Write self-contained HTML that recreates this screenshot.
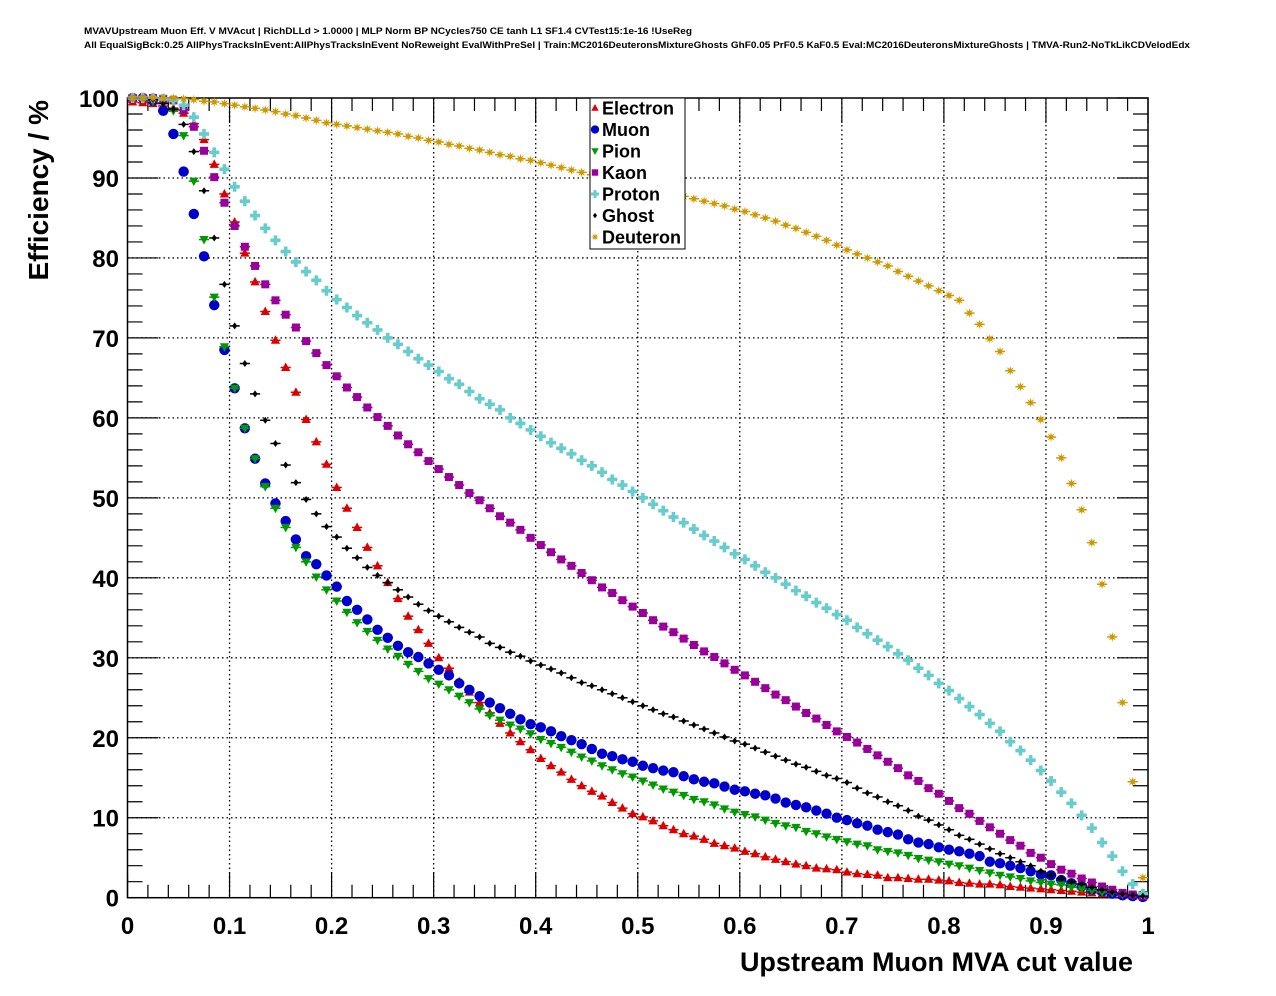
<!DOCTYPE html>
<html><head><meta charset="utf-8"><style>
html,body{margin:0;padding:0;background:#fff;}
svg{display:block;font-family:"Liberation Sans",Arial,sans-serif;}
</style></head><body>
<svg id="chart" width="1276" height="996" viewBox="0 0 1276 996" xmlns="http://www.w3.org/2000/svg">
<rect x="0" y="0" width="1276" height="996" fill="#fff"/>
<text x="84" y="34" font-size="9.5" font-weight="bold" textLength="608" lengthAdjust="spacingAndGlyphs">MVAVUpstream Muon Eff. V MVAcut | RichDLLd &gt; 1.0000 | MLP Norm BP NCycles750 CE tanh L1 SF1.4 CVTest15:1e-16 !UseReg</text>
<text x="84" y="48" font-size="9.5" font-weight="bold" textLength="1106" lengthAdjust="spacingAndGlyphs">All EqualSigBck:0.25 AllPhysTracksInEvent:AllPhysTracksInEvent NoReweight EvalWithPreSel | Train:MC2016DeuteronsMixtureGhosts GhF0.05 PrF0.5 KaF0.5 Eval:MC2016DeuteronsMixtureGhosts | TMVA-Run2-NoTkLikCDVelodEdx</text>
<g id="grid"></g>
<g id="axes"></g>
<g id="series"></g>
<text x="1133" y="971" font-size="27" font-weight="bold" text-anchor="end">Upstream Muon MVA cut value</text>
<text transform="translate(48,100) rotate(-90)" font-size="28" font-weight="bold" text-anchor="end">Efficiency / %</text>
<g id="legend"></g>
</svg>
<script>
const categories = Array.from({length:100},(_,i)=>+(i*0.01+0.005).toFixed(3));
const seriesNames = ["Electron","Muon","Pion","Kaon","Proton","Ghost","Deuteron"];
const electron = [99.5,99.4,99.3,99.0,98.7,98.1,96.8,94.8,91.7,88.0,84.5,80.6,77.0,73.3,69.7,66.3,63.2,59.8,57.0,54.2,51.3,48.7,46.3,43.8,41.5,39.4,37.4,35.2,33.5,31.8,30.0,28.7,27.0,25.7,24.4,23.1,21.8,20.6,19.5,18.5,17.4,16.5,15.7,14.8,14.0,13.3,12.7,11.9,11.2,10.5,10.1,9.6,9.0,8.5,8.0,7.7,7.3,6.8,6.5,6.2,5.8,5.5,5.1,4.8,4.5,4.2,4.0,3.7,3.6,3.5,3.2,3.0,2.9,2.8,2.5,2.5,2.4,2.3,2.3,2.2,2.1,1.9,1.8,1.7,1.7,1.6,1.4,1.3,1.2,1.1,1.0,0.9,0.8,0.7,0.6,0.5,0.4,0.3,0.2,0.1];
const muon = [100,100,99.7,98.4,95.5,90.8,85.5,80.2,74.1,68.5,63.7,58.7,54.9,51.8,49.3,47.1,44.8,42.7,41.7,40.3,38.9,37.1,36.0,34.8,33.5,32.5,31.5,30.7,30.1,29.3,28.5,27.8,26.8,26.0,25.2,24.4,23.7,23.0,22.3,21.7,21.3,20.8,20.2,19.7,19.2,18.6,18.0,17.7,17.3,17.0,16.5,16.2,15.9,15.7,15.2,14.8,14.5,14.3,13.9,13.5,13.3,13.0,12.8,12.4,11.9,11.6,11.3,10.9,10.5,10.0,9.7,9.3,9.0,8.5,8.2,7.9,7.3,6.9,6.7,6.3,6.0,5.8,5.5,5.2,4.5,4.3,4.0,3.7,3.3,2.9,2.8,2.2,1.8,1.4,1.0,0.8,0.5,0.3,0.2,0.1];
const pion = [100,99.8,99.6,99.4,98.4,95.3,89.6,82.3,75.1,68.9,63.7,58.7,54.9,51.4,48.7,46.3,43.8,42.0,40.1,38.5,37.1,35.7,34.4,33.3,32.2,31.1,30.2,29.2,28.3,27.4,26.7,26.0,25.2,24.4,23.6,22.8,22.2,21.6,21.1,20.5,19.8,19.3,18.8,18.2,17.6,17.1,16.5,16.0,15.5,15.1,14.6,14.1,13.6,13.2,12.8,12.3,12.0,11.6,11.1,10.7,10.4,10.1,9.7,9.3,9.0,8.8,8.3,8.0,7.6,7.3,7.0,6.7,6.5,6.0,5.8,5.6,5.3,4.9,4.7,4.5,4.2,4.0,3.7,3.4,3.1,2.8,2.6,2.4,2.1,1.9,1.7,1.6,1.3,1.1,0.9,0.7,0.6,0.4,0.3,0.4];
const kaon = [100,100,100,99.9,99.7,98.5,96.4,93.4,90.1,86.9,84.0,81.4,79.0,76.7,74.7,72.9,71.3,69.6,68.1,66.6,65.2,63.8,62.6,61.3,60.1,59.0,57.8,56.7,55.7,54.6,53.6,52.6,51.6,50.6,49.7,48.7,47.7,46.9,46.0,45.0,44.1,43.2,42.3,41.5,40.6,39.7,38.8,38.1,37.2,36.4,35.6,34.7,33.9,33.2,32.4,31.6,30.8,30.1,29.3,28.5,27.8,27.0,26.2,25.4,24.7,23.9,23.1,22.4,21.6,20.8,20.1,19.4,18.6,17.8,17.0,16.2,15.3,14.6,13.7,13.0,12.1,11.2,10.5,9.6,8.8,8.0,7.2,6.5,5.6,5.0,4.2,3.5,3.0,2.4,1.9,1.4,1.0,0.6,0.4,0.2];
const proton = [100,100,100,99.9,99.7,99.1,97.6,95.5,93.2,91.1,88.9,87.1,85.3,83.7,82.2,80.8,79.5,78.3,77.2,75.9,74.8,73.8,72.8,71.9,71.0,70.0,69.2,68.3,67.4,66.6,65.8,64.9,64.2,63.3,62.4,61.7,61.0,60.0,59.3,58.5,57.7,56.9,56.2,55.5,54.7,54.0,53.2,52.3,51.6,50.8,50.0,49.2,48.4,47.6,46.9,46.1,45.3,44.6,43.8,43.0,42.3,41.5,40.7,40.0,39.2,38.4,37.7,36.9,36.2,35.4,34.7,33.8,33.0,32.2,31.4,30.5,29.7,28.7,27.8,26.8,25.9,24.9,23.9,22.9,21.8,20.8,19.5,18.4,17.2,15.9,14.6,13.2,11.8,10.3,8.7,6.9,5.2,3.3,1.7,0.5];
const ghost = [100,100,99.8,99.3,98.6,96.7,93.3,88.4,82.5,76.7,71.5,66.8,63.0,59.7,56.8,54.1,51.9,49.8,48.0,46.4,45.1,43.7,42.5,41.3,40.3,39.4,38.5,37.6,36.7,35.9,35.2,34.5,33.8,33.2,32.6,31.8,31.3,30.7,30.2,29.6,29.1,28.6,28.1,27.5,26.9,26.5,26.0,25.5,25.0,24.5,24.0,23.5,23.0,22.6,22.1,21.6,21.1,20.6,20.1,19.6,19.2,18.7,18.2,17.7,17.2,16.7,16.3,15.8,15.3,14.9,14.4,13.7,13.1,12.6,12.0,11.5,10.9,10.2,9.7,9.1,8.5,7.8,7.3,6.7,6.1,5.5,5.0,4.5,4.0,3.3,2.8,2.4,2.0,1.7,1.3,1.0,0.7,0.5,0.3,0.2];
const deuteron = [100,100,100,100,100,99.9,99.8,99.6,99.5,99.3,99.1,98.9,98.7,98.5,98.3,98.0,97.8,97.5,97.2,96.9,96.7,96.5,96.3,96.1,95.9,95.7,95.5,95.2,95.0,94.7,94.5,94.2,94.0,93.7,93.5,93.2,92.9,92.7,92.4,92.2,91.9,91.6,91.3,91.0,90.7,90.4,90.1,89.8,89.5,89.2,88.9,88.6,88.3,88.0,87.7,87.4,87.1,86.8,86.5,86.1,85.8,85.4,85.0,84.6,84.1,83.7,83.2,82.7,82.2,81.6,81.0,80.5,80.0,79.5,79.0,78.3,77.7,77.1,76.5,75.9,75.3,74.7,73.1,71.7,69.9,68.3,65.9,63.9,61.9,59.8,57.6,55.0,51.8,48.5,44.4,39.2,32.6,24.4,14.5,2.5];
const xTickLabels = ["0","0.1","0.2","0.3","0.4","0.5","0.6","0.7","0.8","0.9","1"];
const yTickLabels = ["0","10","20","30","40","50","60","70","80","90","100"];

const NS="http://www.w3.org/2000/svg";
const X0=127.5,X1=1148,Y0=897.7,Y1=98;
function xs(v){return X0+(X1-X0)*v;}
function ys(v){return Y0-(Y0-Y1)*v/100;}
function mk(tag,attrs,parent){const e=document.createElementNS(NS,tag);for(const k in attrs)e.setAttribute(k,attrs[k]);parent.appendChild(e);return e;}

const grid=document.getElementById('grid'), axes=document.getElementById('axes');
xTickLabels.forEach((lab,i)=>{
  const v=+lab, x=xs(v);
  if(i>0&&i<xTickLabels.length-1){
    const g=mk('line',{x1:x,x2:x,y1:Y1,y2:Y0,stroke:'#000','stroke-width':1.3,'stroke-dasharray':'1.5,3'},grid);
    
    
  }
  const t=mk('text',{x:x,y:934,'font-size':24,'font-weight':'bold','text-anchor':'middle'},axes);
  t.textContent=lab;
  
  
});
yTickLabels.forEach((lab,i)=>{
  const v=+lab, y=ys(v);
  if(i>0&&i<yTickLabels.length-1){
    const g=mk('line',{x1:X0,x2:X1,y1:y,y2:y,stroke:'#000','stroke-width':1.3,'stroke-dasharray':'1.5,3'},grid);
    
    
  }
  const t=mk('text',{x:119,y:y+9,'font-size':24,'font-weight':'bold','text-anchor':'end'},axes);
  t.textContent=lab;
  
  
});
let tk='';
for(let i=0;i<=50;i++){const x=xs(i/50);const L=(i%5==0)?25:13;tk+=`M${x},${Y0}V${Y0-L}M${x},${Y1}V${Y1+L}`;}
for(let i=0;i<=50;i++){const y=ys(i*2);const L=(i%5==0)?31:15;tk+=`M${X0},${y}H${X0+L}M${X1},${y}H${X1-L}`;}
const tp=mk('path',{d:tk,stroke:'#000','stroke-width':1.2,fill:'none'},axes);


const fr=mk('rect',{x:X0,y:Y1,width:X1-X0,height:Y0-Y1,fill:'none',stroke:'#000','stroke-width':1.5},axes);



function marker(kind,color,x,y,s,parent){
  let e;
  if(kind==='tri-up') e=mk('polygon',{points:`${x},${y-5*s} ${x-4.6*s},${y+3.5*s} ${x+4.6*s},${y+3.5*s}`,fill:color},parent);
  else if(kind==='circle') e=mk('circle',{cx:x,cy:y,r:5.2*s,fill:color},parent);
  else if(kind==='tri-down') e=mk('polygon',{points:`${x},${y+5*s} ${x-4.6*s},${y-3.5*s} ${x+4.6*s},${y-3.5*s}`,fill:color},parent);
  else if(kind==='square') e=mk('rect',{x:x-4*s,y:y-4*s,width:8*s,height:8*s,fill:color},parent);
  else if(kind==='cross') e=mk('path',{d:`M${x-5*s},${y-1.8*s}h${3.2*s}v${-3.2*s}h${3.6*s}v${3.2*s}h${3.2*s}v${3.6*s}h${-3.2*s}v${3.2*s}h${-3.6*s}v${-3.2*s}h${-3.2*s}z`,fill:color},parent);
  else if(kind==='diamond') e=mk('polygon',{points:`${x},${y-3.5*s} ${x+2.6*s},${y} ${x},${y+3.5*s} ${x-2.6*s},${y}`,fill:color},parent);
  else { let p=''; for(let k=0;k<16;k++){const a=-Math.PI/2+k*Math.PI/8;const r=(k%2?2.0:5)*s;p+=`${x+r*Math.cos(a)},${y+r*Math.sin(a)} `;} e=mk('polygon',{points:p,fill:color},parent); }
  return e;
}
const seriesData=[electron,muon,pion,kaon,proton,ghost,deuteron];
const seriesColors=['#dd0000','#0000cc','#009900','#990099','#66cccc','#000000','#cc9900'];
const seriesKinds=['tri-up','circle','tri-down','square','cross','diamond','star'];
const sg=document.getElementById('series');
seriesData.forEach((arr,si)=>{
  const g=mk('g',{},sg);
  
  
  arr.forEach((v,i)=>{
    const x=xs(categories[i]), y=ys(v);
    const eb=mk('line',{x1:x-5.1,x2:x+5.1,y1:y,y2:y,stroke:seriesColors[si],'stroke-width':1.5},g);
    
    
    const m=marker(seriesKinds[si],seriesColors[si],x,y,1,g);
    
    
  });
});
const lg=document.getElementById('legend');
const lb=mk('rect',{x:590,y:98,width:95,height:151,fill:'#fff',stroke:'#000','stroke-width':1},lg);


seriesNames.forEach((n,i)=>{
  const y=108+i*21.5;
  const g=mk('g',{},lg);
  
  
  marker(seriesKinds[i],seriesColors[i],595,y,0.8,g);
  const t=mk('text',{x:602,y:y+6.5,'font-size':18,'font-weight':'bold'},g);
  t.textContent=n;
});
</script>
</body></html>
